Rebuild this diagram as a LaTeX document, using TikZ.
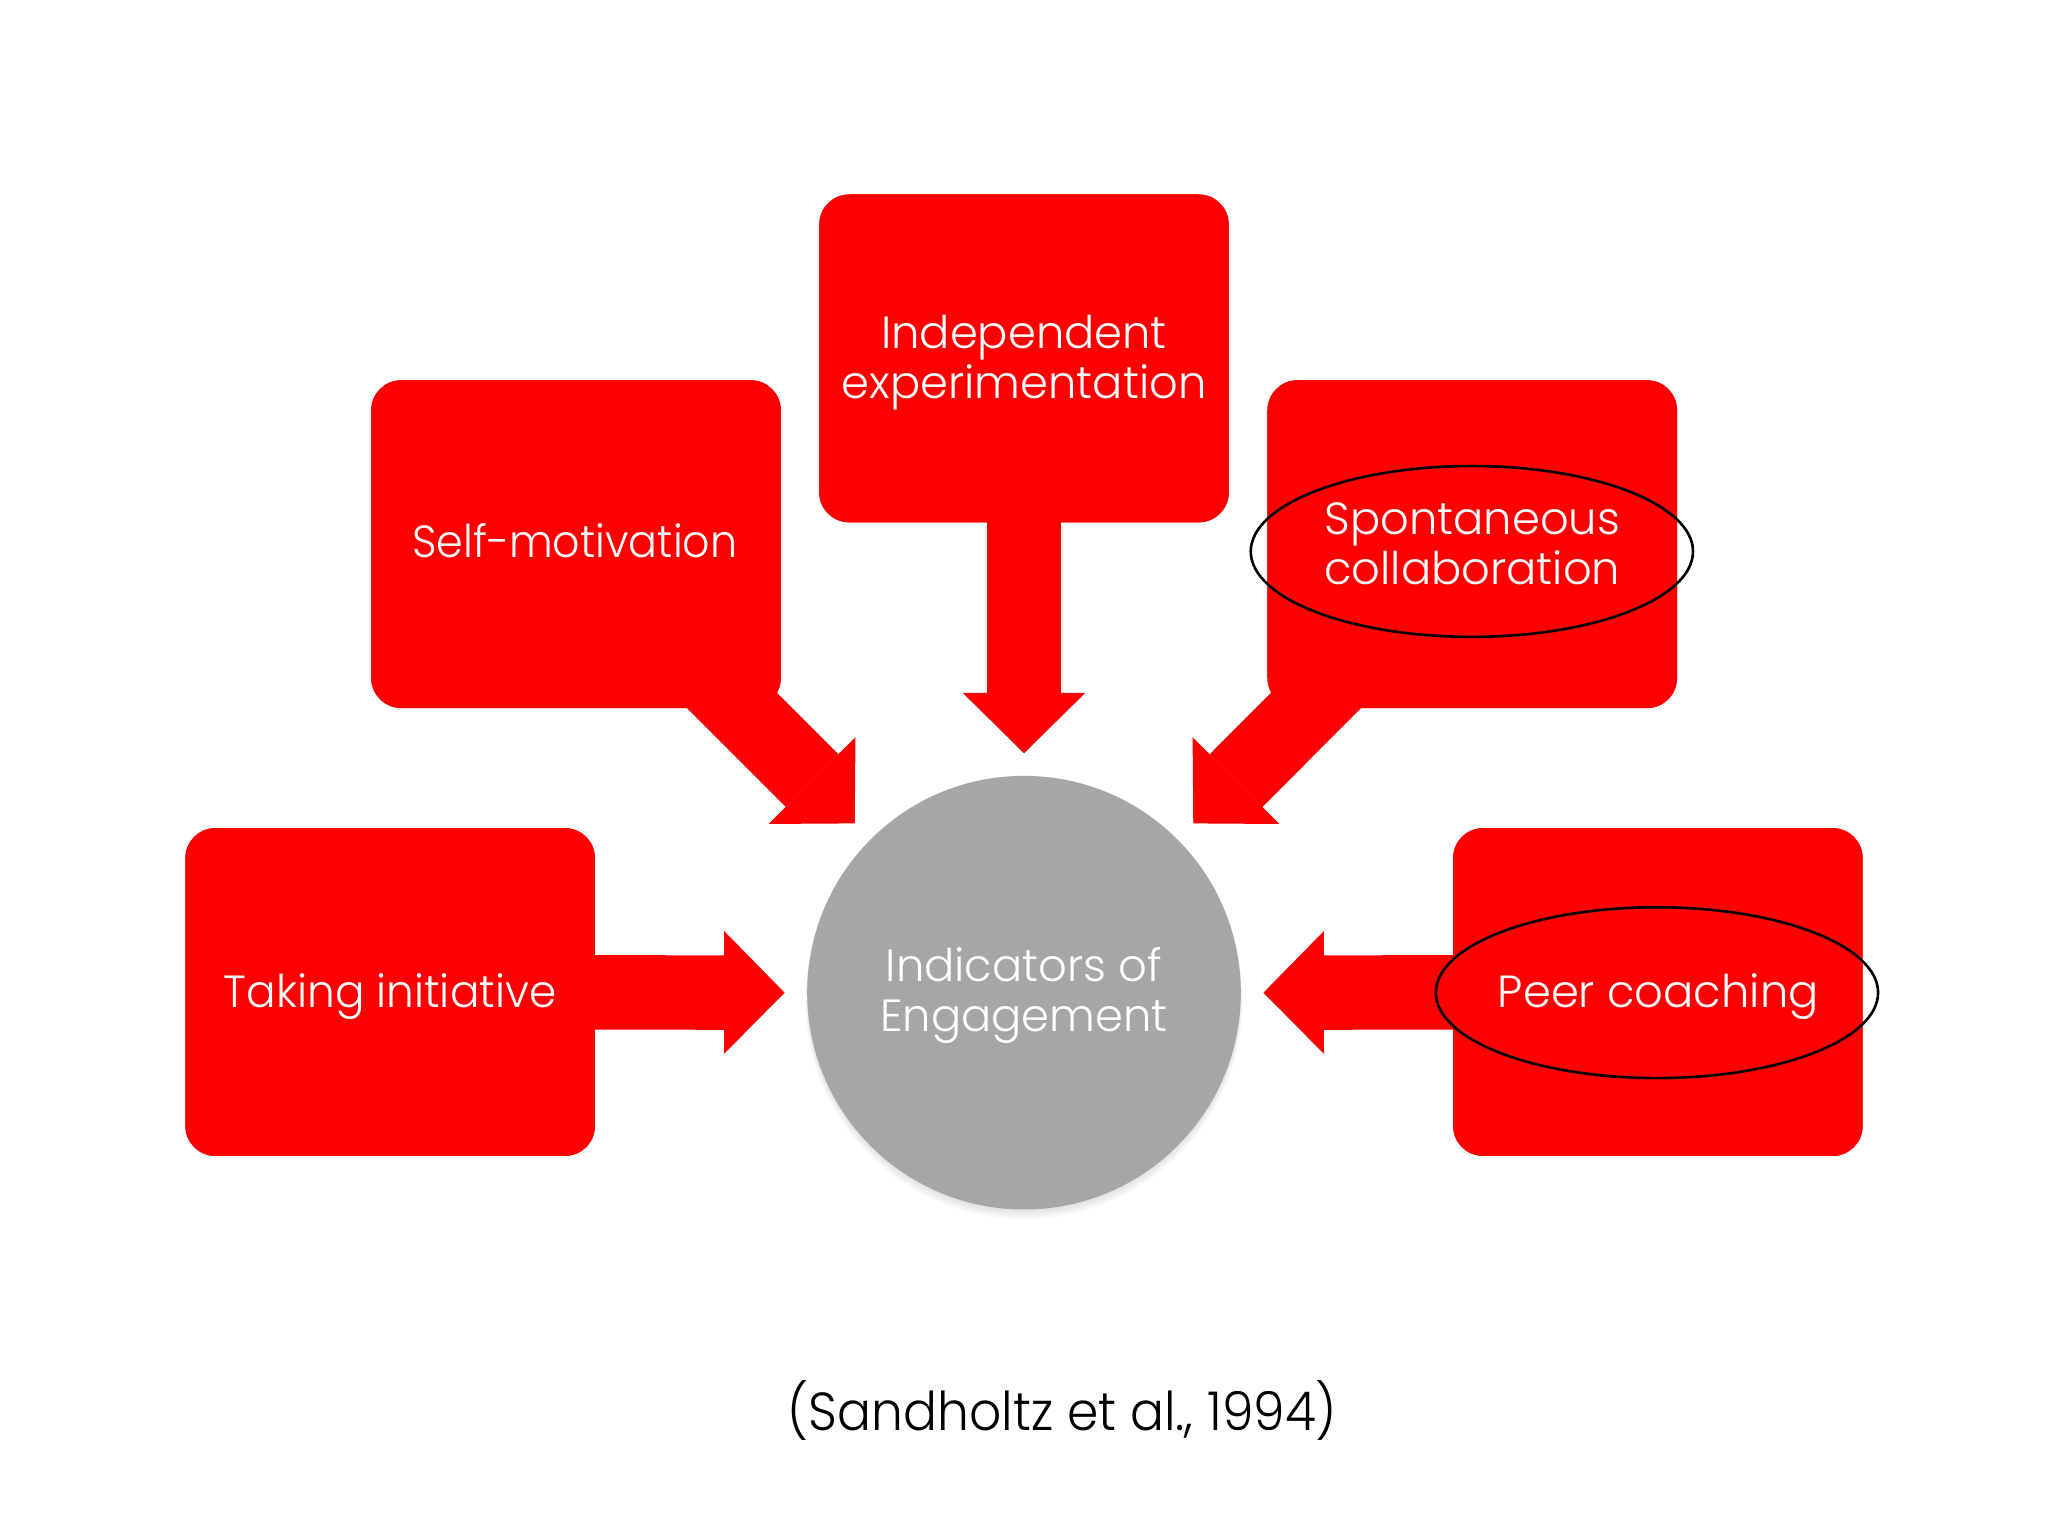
\documentclass[tikz,border=0pt]{standalone}
\usepackage{fontspec}
\IfFontExistsTF{Poppins Light}{\setmainfont{Poppins Light}[FakeStretch=0.995]}{\setmainfont{Poppins}[FakeStretch=0.94]}
\usetikzlibrary{arrows.meta,shapes.geometric}
\definecolor{boxred}{HTML}{FF0000}
\definecolor{hubgray}{HTML}{A6A5A8}
\begin{document}
\begin{tikzpicture}[x=1pt,y=-1pt,
  box/.style={rectangle, rounded corners=23pt, fill=boxred, minimum width=313.6pt, minimum height=251pt, inner sep=0pt},
  lbl/.style={text=white, anchor=base, inner sep=0pt, font=\fontsize{34.5}{38}\selectfont},
  blockarrow/.style={draw=boxred, line width=57pt, -{Triangle[length=46.3pt, width=94pt, line width=0pt, fill=boxred]}},
  ring/.style={ellipse, draw=black, line width=2pt, minimum width=338.6pt, minimum height=130.8pt, inner sep=0pt}
]
\useasboundingbox[fill=white] (0,0) rectangle (1568,1176);

% tips of the block arrows
\coordinate (tT) at (784,576.7);
\coordinate (tUL) at (654.4,630.4);
\coordinate (tUR) at (913.6,630.4);
\coordinate (tL) at (600.7,760);
\coordinate (tR) at (967.3,760);

% boxes (positions)
\path (784,274.4) node[box] (ind) {};
\path (441,416.6) node[box] (self) {};
\path (1127.2,416.6) node[box] (spon) {};
\path (298.7,759.5) node[box] (take) {};
\path (1269.3,759.5) node[box] (peer) {};

% block arrows
\draw[blockarrow] (ind.center) -- (tT);
\draw[blockarrow] (self.center) -- (tUL);
\draw[blockarrow] (spon.center) -- (tUR);
\draw[blockarrow] (take.center) -- (tL);
\draw[blockarrow] (peer.center) -- (tR);

% boxes again on top
\path (784,274.4) node[box] {};
\path (441,416.6) node[box] {};
\path (1127.2,416.6) node[box] {};
\path (298.7,759.5) node[box] {};
\path (1269.3,759.5) node[box] {};

% hub with soft shadow
\foreach \k in {1,...,8}
  \fill[black, opacity=0.015] ([yshift=-\k*0.8pt]784,760) circle[radius=165pt+\k*0.3pt];
\node[circle, fill=hubgray, minimum size=332pt, inner sep=0pt] (hub) at (784,760) {};

% labels
\node[lbl] (indA) at (784,266.7) {Independent};
\node[lbl] (indB) at (784,305.0) {experimentation};
\node[lbl, xscale=0.955] (selfA) at (440.1,426.7) {Self-motivation};
\node[lbl] (sponA) at (1127.2,408.9) {Spontaneous};
\node[lbl] (sponB) at (1127.2,447.2) {collaboration};
\node[lbl, xscale=0.977] (takeA) at (298.7,771.2) {Taking initiative};
\node[lbl] (peerA) at (1269.6,771.3) {Peer coaching};
\node[lbl] (hubA) at (784,751.6) {Indicators of};
\node[lbl] (hubB) at (784,790.0) {Engagement};

% rings
\node[ring] (ringS) at (1126.9,422.2) {};
\node[ring] (ringP) at (1268.6,760) {};

% citation
\node[anchor=base, inner sep=0pt, font=\fontsize{41}{45}\selectfont, xscale=0.945] (cite) at (813.4,1095.4) {(Sandholtz et al., 1994)};
\end{tikzpicture}
\end{document}
